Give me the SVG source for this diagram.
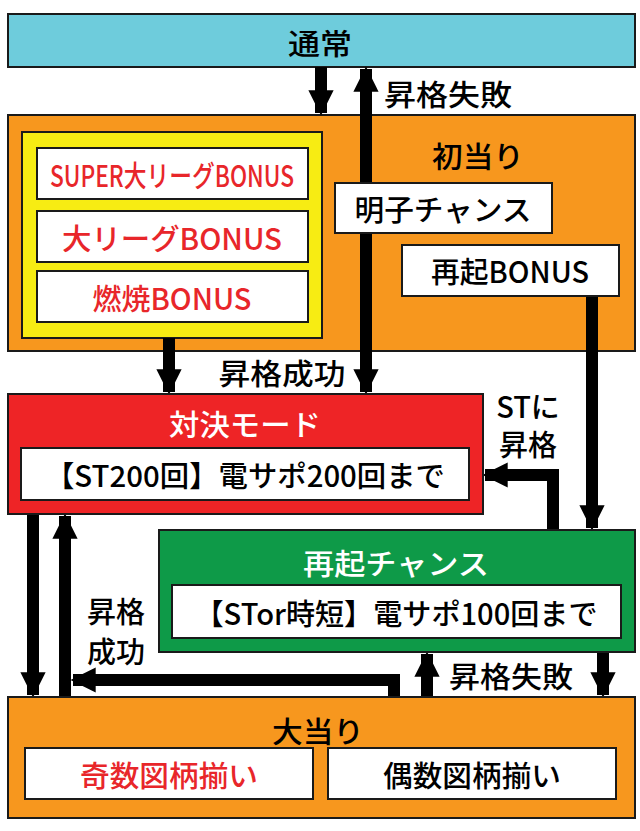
<svg xmlns="http://www.w3.org/2000/svg" width="640" height="831" viewBox="0 0 640 831">
<style>
text{font-family:"Noto Sans CJK JP","Noto Sans",sans-serif;font-size:29px;font-weight:500;text-anchor:middle;dominant-baseline:central;fill:#000}
.r{fill:#E8262A}.w{fill:#fff}
.b{stroke:#1a1a1a;stroke-width:2}
.s{stroke:#000;stroke-width:12;fill:none}
</style>
<defs><marker id="a" viewBox="0 0 10 10" refX="9" refY="5" markerWidth="2.3" markerHeight="2.1" orient="auto" markerUnits="strokeWidth"><path d="M0,0L10,5L0,10z"/></marker></defs>
<rect width="640" height="831" fill="#fff"/>
<g id="tsujo"><rect class="b" x="8" y="14" width="627" height="53" fill="#6ECCDC"/><text x="320" y="42" textLength="64" lengthAdjust="spacingAndGlyphs">通常</text></g>
<g id="hatsuatari"><rect class="b" x="8" y="115" width="627" height="236" fill="#F7971E"/><text x="478" y="155" textLength="92" lengthAdjust="spacingAndGlyphs">初当り</text>
<rect class="b" x="22" y="132" width="300" height="206" fill="#F7EC13"/></g>
<g id="super"><rect class="b" x="37" y="148" width="271" height="51" fill="#fff"/><text class="r" x="172" y="174" textLength="244" lengthAdjust="spacingAndGlyphs">SUPER大リーグBONUS</text></g>
<g id="daileague"><rect class="b" x="37" y="211" width="271" height="51" fill="#fff"/><text class="r" x="172" y="237" textLength="220" lengthAdjust="spacingAndGlyphs">大リーグBONUS</text></g>
<g id="nensho"><rect class="b" x="37" y="271" width="271" height="51" fill="#fff"/><text class="r" x="172" y="297" textLength="159" lengthAdjust="spacingAndGlyphs">燃焼BONUS</text></g>
<g id="connectors">
<line class="s" x1="321" y1="67" x2="321" y2="113" marker-end="url(#a)"/>
<line class="s" x1="366" y1="183" x2="366" y2="69" marker-end="url(#a)"/>
<line class="s" x1="366" y1="233" x2="366" y2="392" marker-end="url(#a)"/>
<line class="s" x1="169" y1="338" x2="169" y2="392" marker-end="url(#a)"/>
<line class="s" x1="592" y1="296" x2="592" y2="528" marker-end="url(#a)"/>
<polyline class="s" points="553,530 553,475 485,475" marker-end="url(#a)"/>
<line class="s" x1="33" y1="514" x2="33" y2="695" marker-end="url(#a)"/>
<line class="s" x1="65" y1="748" x2="65" y2="516" marker-end="url(#a)"/>
<polyline class="s" points="394,748 394,680 73,680" marker-end="url(#a)"/>
<line class="s" x1="427" y1="748" x2="427" y2="654" marker-end="url(#a)"/>
<line class="s" x1="603" y1="652" x2="603" y2="695" marker-end="url(#a)"/>
</g>
<g id="akiko"><rect class="b" x="335" y="183" width="217" height="50" fill="#fff"/><text x="443" y="208" textLength="177" lengthAdjust="spacingAndGlyphs">明子チャンス</text></g>
<g id="saikibonus"><rect class="b" x="402" y="245" width="217" height="51" fill="#fff"/><text x="510" y="270" textLength="158" lengthAdjust="spacingAndGlyphs">再起BONUS</text></g>
<g id="labels">
<text x="448" y="93" textLength="128" lengthAdjust="spacingAndGlyphs">昇格失敗</text>
<text x="282" y="372" textLength="127" lengthAdjust="spacingAndGlyphs">昇格成功</text>
<text x="528" y="405">STに</text>
<text x="528" y="443">昇格</text>
<text x="116" y="610">昇格</text>
<text x="116" y="650">成功</text>
<text x="511" y="675" textLength="124" lengthAdjust="spacingAndGlyphs">昇格失敗</text>
</g>
<g id="taiketsu"><rect class="b" x="8" y="394" width="475" height="120" fill="#EE2426"/><text class="w" x="245" y="423" textLength="152" lengthAdjust="spacingAndGlyphs">対決モード</text>
<rect class="b" x="21" y="448" width="448" height="52" fill="#fff"/><text x="245" y="474" textLength="400" lengthAdjust="spacingAndGlyphs">【ST200回】電サポ200回まで</text></g>
<g id="saikichance"><rect class="b" x="159" y="530" width="476" height="122" fill="#0E9A48"/><text class="w" x="396" y="562" textLength="186" lengthAdjust="spacingAndGlyphs">再起チャンス</text>
<rect class="b" x="172" y="585" width="449" height="53" fill="#fff"/><text x="396" y="612" textLength="403" lengthAdjust="spacingAndGlyphs">【STor時短】電サポ100回まで</text></g>
<g id="ooatari"><rect class="b" x="8" y="697" width="627" height="121" fill="#F7971E"/><text x="318" y="730" textLength="92" lengthAdjust="spacingAndGlyphs">大当り</text></g>
<g id="kisu"><rect class="b" x="25" y="748" width="288" height="51" fill="#fff"/><text class="r" x="169" y="774" textLength="178" lengthAdjust="spacingAndGlyphs">奇数図柄揃い</text></g>
<g id="gusu"><rect class="b" x="328" y="748" width="288" height="51" fill="#fff"/><text x="472" y="774" textLength="178" lengthAdjust="spacingAndGlyphs">偶数図柄揃い</text></g>
</svg>
